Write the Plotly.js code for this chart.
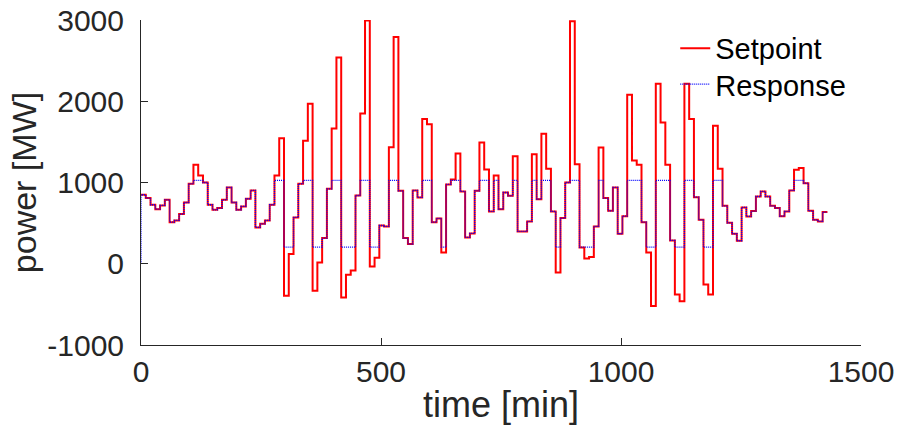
<!DOCTYPE html>
<html>
<head>
<meta charset="utf-8">
<script src="https://cdn.plot.ly/plotly-3.0.1.min.js"></script>
<style>html,body{margin:0;padding:0;background:#fff;}#chart{width:898px;height:441px;}</style>
</head>
<body>
<div id="chart"></div>
<script>
// Setpoint, one value per time step (MW)
const setpoint = [
  849, 808, 726, 672, 718, 787, 512, 533, 611, 754,
  984, 1218, 1087, 1000, 726, 664, 685, 787, 939, 754,
  664, 705, 800, 902, 447, 492, 533, 726, 1087, 1546,
  -394, 119, 570, 984, 1513, 1968, -332, 16, 316, 922,
  1665, 2538, -414, -135, -82, 840, 1849, 2993, -33, 74,
  471, 459, 1435, 2792, 898, 316, 242, 902, 816, 1783,
  1718, 512, 558, 139, 976, 1037, 1357, 890, 324, 373,
  898, 1492, 1160, 644, 1087, 672, 877, 836, 1324, 398,
  398, 521, 1349, 795, 1599, 1169, 644, -107, 562, 1000,
  2985, 1226, 201, 66, 82, 459, 1431, 808, 652, 939,
  369, 586, 2079, 1271, 1218, 512, 139, -520, 2214, 1738,
  1218, 287, -377, -460, 2214, 1783, 820, 541, -255, -377,
  1697, 1169, 713, 504, 369, 283, 693, 582, 648, 828,
  890, 828, 713, 685, 586, 644, 902, 1156, 1177, 992,
  652, 541, 521, 636
];
// Response, one value per time step (MW)
const response = [
  849, 808, 726, 672, 718, 787, 512, 533, 611, 754,
  984, 1025, 1025, 1000, 726, 664, 685, 787, 939, 754,
  664, 705, 800, 902, 447, 492, 533, 726, 1025, 1025,
  205, 205, 570, 984, 1025, 1025, 205, 205, 316, 922,
  1025, 1025, 205, 205, 205, 840, 1025, 1025, 205, 205,
  471, 459, 1025, 1025, 898, 316, 242, 902, 816, 1025,
  1025, 512, 558, 205, 976, 1025, 1025, 890, 324, 373,
  898, 1025, 1025, 644, 1025, 672, 877, 836, 1025, 398,
  398, 521, 1025, 795, 1025, 1025, 644, 205, 562, 1000,
  1025, 1025, 205, 205, 205, 459, 1025, 808, 652, 939,
  369, 586, 1025, 1025, 1025, 512, 205, 205, 1025, 1025,
  1025, 287, 205, 205, 1025, 1025, 820, 541, 205, 205,
  1025, 1025, 713, 504, 369, 283, 693, 582, 648, 828,
  890, 828, 713, 685, 586, 644, 902, 1025, 1025, 992,
  652, 541, 521, 636
];
const responseStart = 0;      // response value at t = 0
const endTime = 1430;         // minutes, end of the last step
const xTickVals = [0, 500, 1000, 1500];
const yTickVals = [-1000, 0, 1000, 2000, 3000];

// step edges (minutes)
const n = setpoint.length;
const edges = [];
for (let i = 0; i <= n; i++) edges.push(i * endTime / n);

const spY = setpoint.concat([setpoint[n - 1]]);
const rX = [0].concat(edges);
const rY = [responseStart].concat(response, [response[n - 1]]);

const ink = '#262626';
const traces = [
  {x: edges, y: spY, type: 'scatter', mode: 'lines', name: 'Setpoint', legend: 'legend',
   line: {shape: 'hv', color: '#FF0000', width: 2}},
  {x: rX, y: rY, type: 'scatter', mode: 'lines', name: 'Response', legend: 'legend2',
   line: {shape: 'hv', color: '#0000FF', width: 1.3, dash: '1px,1px'}}
];
const legBase = {xanchor: 'left', yanchor: 'middle', bgcolor: 'rgba(0,0,0,0)', borderwidth: 0,
                 font: {size: 29, color: '#000'}, itemwidth: 30};
const layout = {
  width: 898, height: 441,
  margin: {l: 141, r: 37, t: 20, b: 96},
  paper_bgcolor: '#fff', plot_bgcolor: '#fff',
  font: {family: 'Arial, "Liberation Sans", sans-serif', color: ink, size: 30},
  showlegend: true,
  legend: Object.assign({x: 0.742, y: 0.913}, legBase),
  legend2: Object.assign({x: 0.742, y: 0.802}, legBase),
  xaxis: {range: [0, 1500], tickvals: xTickVals, ticktext: xTickVals.map(String),
          ticks: 'inside', ticklen: 7, tickwidth: 1, tickcolor: ink,
          showline: true, linecolor: ink, linewidth: 1, mirror: false,
          showgrid: false, zeroline: false, ticklabelstandoff: 0,
          tickfont: {size: 30, color: ink},
          title: {text: 'time [min]', font: {size: 36, color: ink}, standoff: 4}},
  yaxis: {range: [-1000, 3000], tickvals: yTickVals, ticktext: yTickVals.map(String),
          ticks: 'inside', ticklen: 7, tickwidth: 1, tickcolor: ink,
          showline: true, linecolor: ink, linewidth: 1, mirror: false,
          showgrid: false, zeroline: false, ticklabelstandoff: 10,
          tickfont: {size: 30, color: ink},
          title: {text: 'power [MW]', font: {size: 34, color: ink}, standoff: 0}}
};
Plotly.newPlot('chart', traces, layout, {staticPlot: true, displayModeBar: false});
</script>
</body>
</html>
